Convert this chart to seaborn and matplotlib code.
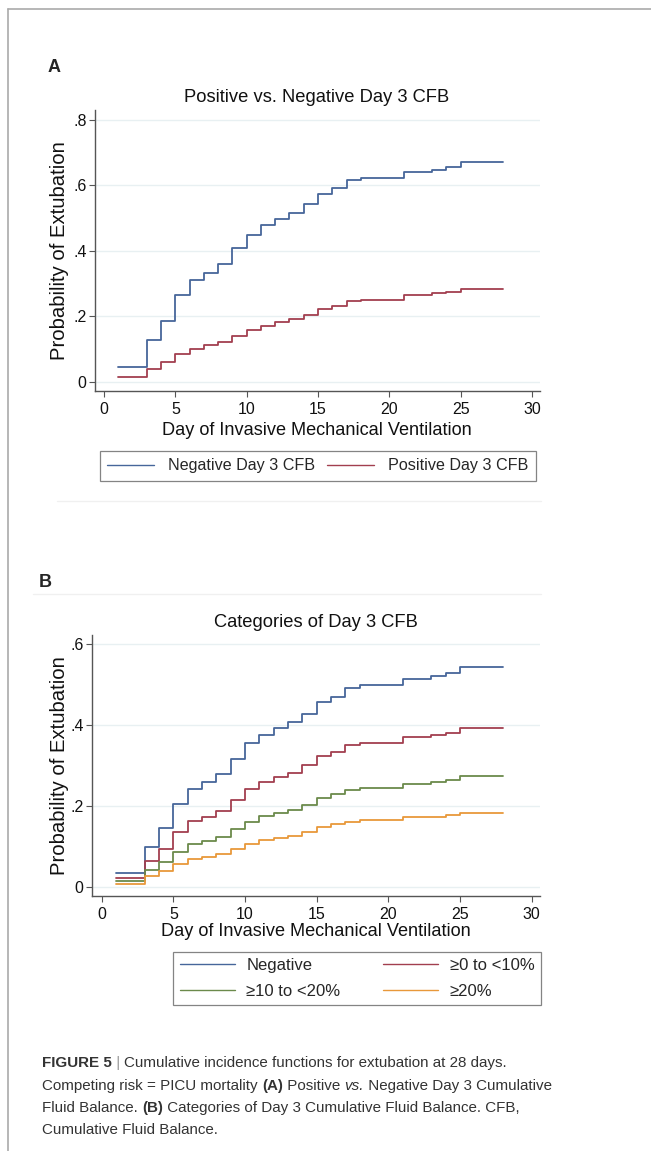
"""
Cumulative incidence of extubation by Day 3 cumulative fluid balance (two panels + caption).
"""
import numpy as np
import pandas as pd
import matplotlib
matplotlib.use("Agg")
import matplotlib.pyplot as plt
import seaborn as sns
from matplotlib.lines import Line2D

sns.set_theme(style="white")
plt.rcParams['font.family'] = ['Liberation Sans', 'DejaVu Sans']

# ---- data ----
days = [1, 3, 4, 5, 6, 7, 8, 9, 10, 11, 12, 13, 14, 15, 16, 17, 18, 21, 23, 24, 25, 28]

a_negative = [0.045, 0.127, 0.186, 0.265, 0.311, 0.332, 0.359, 0.408, 0.450, 0.479, 0.497,
              0.516, 0.542, 0.575, 0.593, 0.616, 0.624, 0.641, 0.648, 0.657, 0.672, 0.672]
a_positive = [0.014, 0.041, 0.061, 0.085, 0.102, 0.112, 0.122, 0.141, 0.160, 0.172, 0.182,
              0.191, 0.204, 0.222, 0.232, 0.246, 0.251, 0.264, 0.271, 0.276, 0.283, 0.283]
a_labels = ["Negative Day 3 CFB", "Positive Day 3 CFB"]

b_negative = [0.033, 0.099, 0.145, 0.205, 0.241, 0.258, 0.279, 0.316, 0.354, 0.375, 0.392,
              0.406, 0.428, 0.456, 0.470, 0.492, 0.498, 0.513, 0.520, 0.528, 0.542, 0.542]
b_0_10 = [0.021, 0.064, 0.094, 0.136, 0.162, 0.171, 0.188, 0.215, 0.241, 0.258, 0.270,
          0.281, 0.300, 0.322, 0.334, 0.351, 0.355, 0.369, 0.375, 0.381, 0.393, 0.393]
b_10_20 = [0.015, 0.041, 0.060, 0.086, 0.105, 0.113, 0.122, 0.142, 0.161, 0.174, 0.183,
           0.190, 0.203, 0.219, 0.229, 0.240, 0.245, 0.254, 0.259, 0.264, 0.273, 0.273]
b_20 = [0.007, 0.026, 0.038, 0.056, 0.068, 0.074, 0.080, 0.093, 0.105, 0.115, 0.120,
        0.126, 0.134, 0.147, 0.154, 0.160, 0.164, 0.171, 0.173, 0.177, 0.183, 0.183]
b_labels = ["Negative", "≥0 to <10%", "≥10 to <20%", "≥20%"]

x_ticks = [0, 5, 10, 15, 20, 25, 30]
a_yticks = [0, 0.2, 0.4, 0.6, 0.8]
a_yticklabels = ["0", ".2", ".4", ".6", ".8"]
b_yticks = [0, 0.2, 0.4, 0.6]
b_yticklabels = ["0", ".2", ".4", ".6"]

colors = ['#46669a', '#a23f4f', '#6b8a4b', '#e8983a']
spine_col = '#555555'

W, H = 651, 1151
fig = plt.figure(figsize=(W / 100, H / 100), dpi=100)


def fx(px):
    return px / W


def fy(py):
    return 1 - py / H


def long_df(series, labels):
    frames = [pd.DataFrame({'day': days, 'prob': vals, 'group': lab}) for vals, lab in zip(series, labels)]
    return pd.concat(frames, ignore_index=True)


def style_axis(ax, yticks, yticklabels, xlim, ylim):
    ax.set_xlim(*xlim)
    ax.set_ylim(*ylim)
    ax.set_xticks(x_ticks)
    ax.set_yticks(yticks)
    ax.set_yticklabels(yticklabels)
    ax.yaxis.grid(True, color='#e8f0f2', linewidth=1.0)
    ax.xaxis.grid(False)
    for side in ['top', 'right']:
        ax.spines[side].set_visible(False)
    for side in ['left', 'bottom']:
        ax.spines[side].set_color(spine_col)
        ax.spines[side].set_linewidth(1.0)
    ax.tick_params(axis='both', direction='out', length=4, width=0.8, color=spine_col,
                   labelsize=11.5, labelcolor='#111111')
    ax.tick_params(axis='x', pad=4, bottom=True)
    ax.tick_params(axis='y', pad=2, left=True)


# ---- Panel A ----
axA = fig.add_axes([fx(95), fy(391), fx(445), 281 / H])
dfA = long_df([a_negative, a_positive], a_labels)
sns.lineplot(data=dfA, x='day', y='prob', hue='group', hue_order=a_labels, palette=colors[:2],
             drawstyle='steps-post', estimator=None, linewidth=1.3, legend=False, ax=axA)
style_axis(axA, a_yticks, a_yticklabels, (-0.63, 30.56), (-0.0275, 0.83))
axA.set_xlabel("Day of Invasive Mechanical Ventilation", fontsize=13.1, color='#111111')
axA.set_ylabel("Probability of Extubation", fontsize=14.6, color='#111111')
axA.xaxis.set_label_coords(0.499, -0.11)
axA.yaxis.set_label_coords(-0.058, 0.5)
fig.text(fx(317), fy(102), "Positive vs. Negative Day 3 CFB", fontsize=13.2, ha='center',
         va='baseline', color='#111111')
fig.text(fx(48), fy(72), "A", fontsize=13, fontweight='bold', ha='left', va='baseline')

hA = [Line2D([0], [0], color=c, lw=1.0) for c in colors[:2]]
legA = fig.legend(hA, a_labels, ncol=2, loc='center', mode='expand',
                  bbox_to_anchor=(fx(100), fy(481), fx(436), 30 / H),
                  frameon=True, fancybox=False, edgecolor='#666666', fontsize=11.6,
                  handlelength=2.9, handletextpad=0.9, borderpad=0.45, borderaxespad=0)
legA.get_frame().set_linewidth(0.9)

# ---- Panel B ----
axB = fig.add_axes([fx(92), fy(896), fx(448), 261 / H])
dfB = long_df([b_negative, b_0_10, b_10_20, b_20], b_labels)
sns.lineplot(data=dfB, x='day', y='prob', hue='group', hue_order=b_labels, palette=colors,
             drawstyle='steps-post', estimator=None, linewidth=1.3, legend=False, ax=axB)
style_axis(axB, b_yticks, b_yticklabels, (-0.68, 30.58), (-0.023, 0.622))
axB.set_xlabel("Day of Invasive Mechanical Ventilation", fontsize=13.1, color='#111111')
axB.set_ylabel("Probability of Extubation", fontsize=14.6, color='#111111')
axB.xaxis.set_label_coords(0.5, -0.105)
axB.yaxis.set_label_coords(-0.052, 0.5)
fig.text(fx(316), fy(627), "Categories of Day 3 CFB", fontsize=13.2, ha='center',
         va='baseline', color='#111111')
fig.text(fx(39), fy(587), "B", fontsize=13, fontweight='bold', ha='left', va='baseline')

# legend fills column-wise, so order entries to read row-wise like the original
order = [0, 2, 1, 3]
hB = [Line2D([0], [0], color=colors[i], lw=1.0) for i in order]
legB = fig.legend(hB, [b_labels[i] for i in order], ncol=2, loc='center', mode='expand',
                  bbox_to_anchor=(fx(173), fy(1006), fx(368), 55 / H),
                  frameon=True, fancybox=False, edgecolor='#666666', fontsize=12,
                  handlelength=3.3, handletextpad=0.7, borderpad=0.4, labelspacing=0.62,
                  borderaxespad=0)
legB.get_frame().set_linewidth(0.9)

# ---- frame and separators ----
fig.add_artist(Line2D([fx(8), 1], [fy(9), fy(9)], color='#aaaaaa', lw=1.2))
fig.add_artist(Line2D([fx(8), fx(8)], [fy(9), 0], color='#aaaaaa', lw=1.2))
fig.add_artist(Line2D([fx(57), fx(541)], [fy(501), fy(501)], color='#f0f0f0', lw=1.0))
fig.add_artist(Line2D([fx(33), fx(541)], [fy(594), fy(594)], color='#f0f0f0', lw=1.0))

# ---- caption (mixed styles drawn run by run) ----
renderer = fig.canvas.get_renderer()
cap_size = 10.9
cap_col = '#333333'


def run_width(s, **kw):
    t1 = fig.text(0, 0, s + "|", fontsize=cap_size, **kw)
    t2 = fig.text(0, 0, "|", fontsize=cap_size, **kw)
    w = t1.get_window_extent(renderer).width - t2.get_window_extent(renderer).width
    t1.remove()
    t2.remove()
    return w


caption = [
    [("FIGURE 5", dict(fontweight='bold')), (" | ", dict(color='#999999')),
     ("Cumulative incidence functions for extubation at 28 days.", {})],
    [("Competing risk = PICU mortality ", {}), ("(A)", dict(fontweight='bold')),
     (" Positive ", {}), ("vs.", dict(fontstyle='italic')), (" Negative Day 3 Cumulative", {})],
    [("Fluid Balance. ", {}), ("(B)", dict(fontweight='bold')),
     (" Categories of Day 3 Cumulative Fluid Balance. CFB,", {})],
    [("Cumulative Fluid Balance.", {})],
]
baselines = [1067, 1090, 1112, 1134]
for line, base in zip(caption, baselines):
    x = 42
    for s, kw in line:
        kw = dict(kw)
        kw.setdefault('color', cap_col)
        fig.text(fx(x), fy(base), s, fontsize=cap_size, ha='left', va='baseline', **kw)
        x += run_width(s, **kw)

fig.savefig("out.png", dpi=100, facecolor='white')
